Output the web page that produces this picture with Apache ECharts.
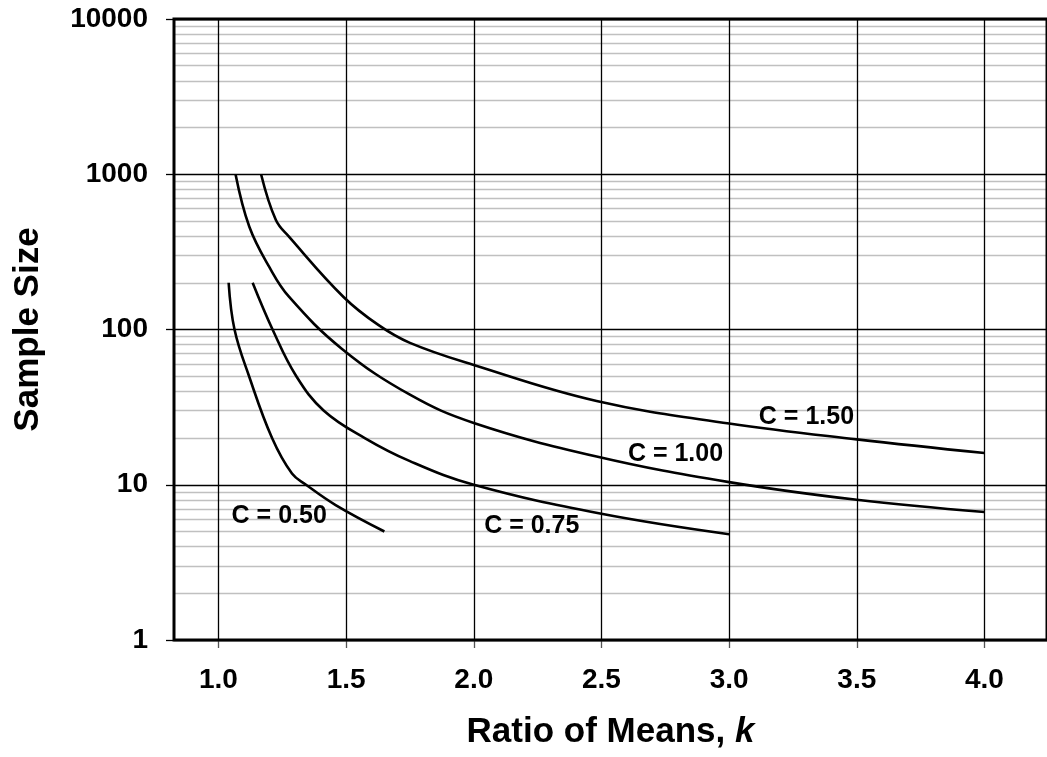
<!DOCTYPE html>
<html>
<head>
<meta charset="utf-8">
<script src="https://cdn.jsdelivr.net/npm/echarts@6/dist/echarts.min.js"></script>
<style>html,body{margin:0;padding:0;background:#fff}#chart{width:1047px;height:757px}</style>
</head>
<body>
<div id="chart"></div>
<script>
// ---- data ----
const xTicks = [1.0, 1.5, 2.0, 2.5, 3.0, 3.5, 4.0];
const yMajor = [1, 10, 100, 1000, 10000];
const yMinor = [2,3,4,5,6,7,8,9,20,30,40,50,60,70,80,90,200,300,400,500,600,700,800,900,2000,3000,4000,5000,6000,7000,8000,9000];

const c050X = [1.04, 1.063, 1.12, 1.21, 1.288, 1.343, 1.459, 1.65];
const c050Y = [200, 100, 50, 20, 11.8, 10, 7.4, 5];

const c075X = [1.134, 1.212, 1.305, 1.413, 1.573, 1.75, 2.0, 2.5, 3.0];
const c075Y = [200, 100, 50, 30, 20, 14.2, 10, 6.5, 4.8];

const c100X = [1.067, 1.121, 1.199, 1.277, 1.484, 1.75, 2.0, 2.481, 3.0, 3.5, 4.0];
const c100Y = [1000, 459, 253, 162, 75, 38, 25, 15.2, 10.4, 8.0, 6.67];

const c150X = [1.167, 1.225, 1.277, 1.49, 1.626, 1.75, 2.0, 2.481, 3.0, 3.5, 4.0];
const c150Y = [1000, 507, 395, 162, 107, 82, 59, 34.6, 24.8, 19.6, 16];

const labelText = ['C = 0.50', 'C = 0.75', 'C = 1.00', 'C = 1.50'];
const labelX = [1.238, 2.227, 2.79, 3.303];
const labelY = [6.3, 5.42, 15.8, 27.4];

// ---- chart ----
const FONT = "'Liberation Sans', Arial, sans-serif";
const zip = (xs, ys) => xs.map((x, i) => [x, ys[i]]);
const curve = (xs, ys) => ({
  type: 'line', data: zip(xs, ys), showSymbol: false, symbol: 'none',
  smooth: 0.4,
  lineStyle: { color: '#000', width: 2.6 }, z: 5, silent: true
});

const chart = echarts.init(document.getElementById('chart'), null, { renderer: 'canvas' });
chart.setOption({
  animation: false,
  backgroundColor: '#fff',
  grid: { left: 174, top: 19, right: -7, bottom: 117, show: true, borderColor: '#000', borderWidth: 3, backgroundColor: 'transparent', z: 10 },
  xAxis: {
    type: 'value', min: 0.826, max: 4.245,
    name: 'Ratio of Means, {i|k}', nameLocation: 'middle', nameGap: 75,
    nameTextStyle: { fontFamily: FONT, fontWeight: 'bold', fontSize: 35, color: '#000',
      rich: { i: { fontFamily: FONT, fontWeight: 'bold', fontStyle: 'italic', fontSize: 35, color: '#000' } } },
    axisLine: { show: false },
    axisTick: { show: true, customValues: xTicks, length: 8, inside: false, lineStyle: { color: '#555', width: 1.3 } },
    axisLabel: { customValues: xTicks, margin: 26, fontFamily: FONT, fontWeight: 'bold', fontSize: 28, color: '#000',
      formatter: v => Number(v).toFixed(1) },
    splitLine: { show: false }
  },
  yAxis: {
    type: 'log', logBase: 10, min: 1, max: 10000, interval: 1,
    name: 'Sample Size', nameLocation: 'middle', nameGap: 128,
    nameTextStyle: { fontFamily: FONT, fontWeight: 'bold', fontSize: 35, color: '#000' },
    axisLine: { show: false },
    axisTick: { show: true, length: 8, lineStyle: { color: '#000', width: 1.3 } },
    axisLabel: { margin: 26, fontFamily: FONT, fontWeight: 'bold', fontSize: 28, color: '#000',
      formatter: v => String(Math.round(v)) },
    splitLine: { show: true, lineStyle: { color: '#000', width: 1.3 } }
  },
  series: [
    {
      type: 'line', data: [], silent: true, z: 1,
      markLine: {
        silent: true, symbol: 'none', animation: false, label: { show: false },
        lineStyle: { color: '#c0c0c0', width: 1.3, type: 'solid' },
        data: yMinor.map(v => ({ yAxis: v }))
      }
    },
    {
      type: 'line', data: [], silent: true, z: 2,
      markLine: {
        silent: true, symbol: 'none', animation: false, label: { show: false },
        lineStyle: { color: '#000', width: 1.3, type: 'solid' },
        data: xTicks.map(v => ({ xAxis: v }))
      }
    },
    curve(c050X, c050Y),
    curve(c075X, c075Y),
    curve(c100X, c100Y),
    curve(c150X, c150Y),
    {
      type: 'scatter', symbolSize: 1, silent: true, z: 6,
      itemStyle: { opacity: 0 },
      data: labelX.map((x, i) => ({ value: [x, labelY[i]], name: labelText[i] })),
      label: { show: true, position: 'inside', formatter: p => p.name, opacity: 1,
        fontFamily: FONT, fontWeight: 'bold', fontSize: 25, color: '#000', textBorderWidth: 0 }
    }
  ]
});
</script>
</body>
</html>
